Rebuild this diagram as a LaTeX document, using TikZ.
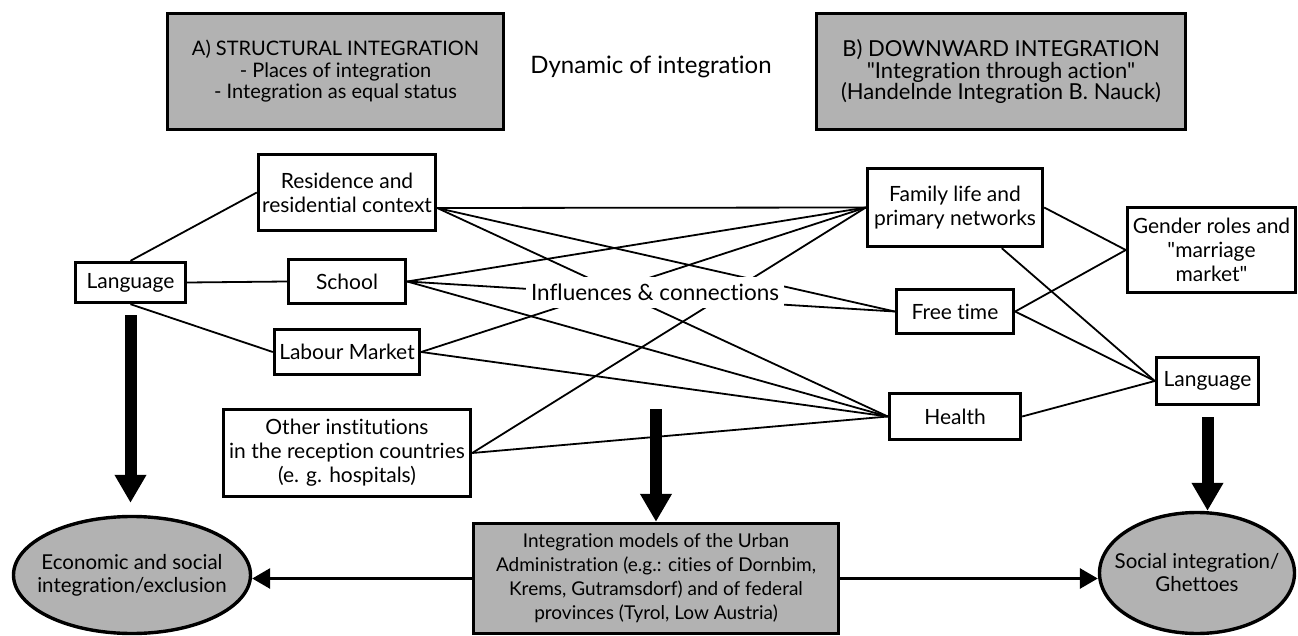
\documentclass[tikz,border=0pt]{standalone}
\usepackage{fontspec}
\setmainfont{Lato}[Ligatures={TeXOff,NoCommon}]
\usetikzlibrary{shapes.geometric,arrows.meta}

\tikzset{
  frame/.style={draw, line width=3.4pt, fill=white, inner sep=0pt, align=center,
    font=\fontsize{21}{24}\selectfont},
  headbox/.style={draw, line width=3.8pt, fill=black!30, inner sep=0pt, align=center},
  oval/.style={ellipse, draw, line width=3.4pt, fill=black!30, inner sep=0pt},
  ovaltext/.style={align=center, inner sep=0pt, font=\fontsize{20.5}{23}\selectfont},
  link/.style={line width=1.8pt},
  flow/.style={line width=3pt, -{Triangle[length=18pt,width=20pt]}},
  bigflow/.style={line width=12pt, -{Triangle[length=28pt,width=30pt]}},
}

\begin{document}
\begin{tikzpicture}[x=1pt,y=-1pt]
\useasboundingbox (0,0) rectangle (1298,636);

% header boxes and title
\node[headbox, minimum width=336, minimum height=116, font=\fontsize{20}{21.5}\selectfont]
  (boxA) at (335.5,71.5) {A) STRUCTURAL INTEGRATION\\- Places of integration\\- Integration as equal status};
\node[headbox, minimum width=369, minimum height=116, font=\fontsize{22}{21.5}\selectfont]
  (boxB) at (1001,71.5) {B) DOWNWARD INTEGRATION\\"Integration through action"\\(Handelnde Integration B. Nauck)};
\node[font=\fontsize{24}{26}\selectfont] (dyn) at (651,67) {Dynamic of integration};

% left column
\node[frame, minimum width=177, minimum height=76] (res) at (347,192.5) {Residence and\\residential context};
\node[frame, minimum width=110, minimum height=40] (langL) at (130.5,282.5) {Language};
\node[frame, minimum width=117, minimum height=44] (school) at (347,281.5) {School};
\node[frame, minimum width=145, minimum height=45] (labour) at (347,352) {Labour Market};
\node[frame, minimum width=247, minimum height=87] (other) at (347,453) {Other institutions\\in the reception countries\\(e. g. hospitals)};

% right column
\node[frame, minimum width=175, minimum height=78] (fam) at (955,207.5) {Family life and\\primary networks};
\node[frame, minimum width=168, minimum height=85] (gender) at (1211.5,250) {Gender roles and\\"marriage\\market"};
\node[frame, minimum width=117, minimum height=44] (free) at (955,311.5) {Free time};
\node[frame, minimum width=102, minimum height=47] (langR) at (1207.5,381) {Language};
\node[frame, minimum width=131, minimum height=46] (health) at (955,416.5) {Health};

% bottom row
\node[headbox, line width=3.4pt, minimum width=365, minimum height=110, font=\fontsize{19}{24}\selectfont]
  (intbox) at (656,578.5) {Integration models of the Urban\\Administration (e.g.: cities of Dornbim,\\Krems, Gutramsdorf) and of federal\\provinces (Tyrol, Low Austria)};
\node[oval, minimum width=237, minimum height=117] (econ) at (132,575) {};
\node[ovaltext] (econT) at (econ) {Economic and social\\integration/exclusion};
\node[oval, minimum width=195, minimum height=121] (social) at (1197,573) {};
\node[ovaltext] (socialT) at (social) {Social integration/\\Ghettoes};

% connections among the places of integration
\coordinate (resP) at ([yshift=-15.5pt]res.east);
\draw[link] (langL.north) -- (res.west);
\draw[link] (langL.east) -- (school.west);
\draw[link] (langL.south) -- (labour.west);

\foreach \t in {fam, free, health}
  \draw[link] (resP) -- (\t.west);
\foreach \t in {fam, free, health}
  \draw[link] (school.east) -- (\t.west);
\foreach \t in {fam, health}
  \draw[link] (labour.east) -- (\t.west);
\foreach \t in {fam, health}
  \draw[link] (other.east) -- (\t.west);

\draw[link] (fam.east) -- (gender.west);
\draw[link] (free.east) -- (gender.west);
\draw[link] (fam) -- (langR.west);
\draw[link] (free.east) -- (langR.west);
\draw[link] (health.east) -- (langR.west);

\node[fill=white, inner xsep=5pt, inner ysep=0pt, minimum height=31,
  font=\fontsize{22.5}{26}\selectfont] (infl) at (655,292.5) {Influences \& connections};

% outcome arrows
\coordinate (midTop) at (656,409);
\draw[bigflow, shorten <=11pt, shorten >=12pt] (langL.south) -- (langL.south |- econ.north);
\draw[bigflow] (midTop) -- (intbox.north);
\draw[bigflow, shorten <=11pt] (langR.south) -- (langR.south |- social.north);
\draw[flow] (intbox.west) -- (intbox.west -| econ.east);
\draw[flow] (intbox.east) -- (intbox.east -| social.west);
\end{tikzpicture}
\end{document}
